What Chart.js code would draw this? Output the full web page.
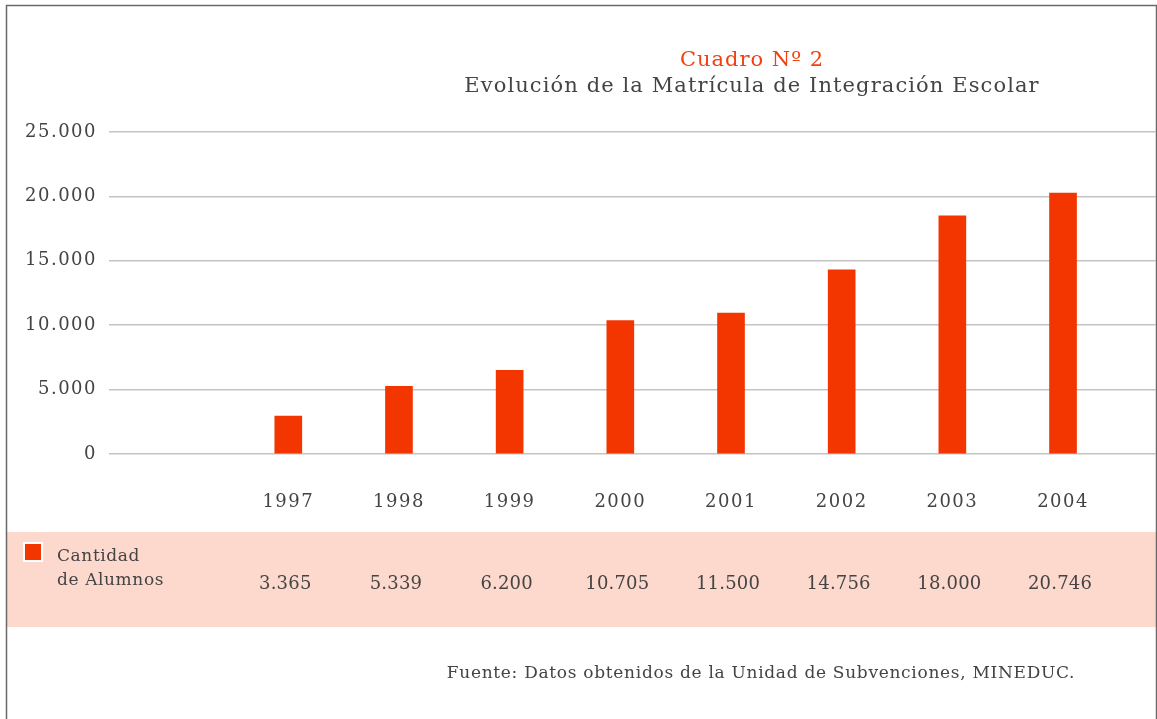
<!DOCTYPE html>
<html>
<head>
<meta charset="utf-8">
<script src="https://cdn.jsdelivr.net/npm/chart.js@4.4.1/dist/chart.umd.min.js"></script>
<style>
  html, body { margin: 0; padding: 0; background: #fff; }
  #wrap { width: 1157px; height: 719px; }
</style>
</head>
<body>
<div id="wrap"><canvas id="grafico" width="1157" height="719"></canvas></div>
<script>
// Datos del cuadro
const anios = [1997, 1998, 1999, 2000, 2001, 2002, 2003, 2004];
// alturas de las barras
const alumnos = [2950, 5250, 6500, 10350, 10950, 14300, 18500, 20250];
// valores impresos en la tabla inferior
const tablaValores = ['3.365', '5.339', '6.200', '10.705', '11.500', '14.756', '18.000', '20.746'];
const ticksY = [0, 5000, 10000, 15000, 20000, 25000];

const titulo = 'Cuadro Nº 2';
const subtitulo = 'Evolución de la Matrícula de Integración Escolar';
const serieNombre = ['Cantidad', 'de Alumnos'];
const fuente = 'Fuente: Datos obtenidos de la Unidad de Subvenciones, MINEDUC.';

const FONT = '"DejaVu Serif", "Liberation Serif", serif';
const GRIS = '#444';
const ROJO = '#f33600';

function miles(v) {
    return String(v).replace(/\B(?=(\d{3})+(?!\d))/g, '.');
}

function texto(ctx, str, x, y, size, color, align, spacing) {
    ctx.save();
    ctx.font = size + 'px ' + FONT;
    ctx.fillStyle = color;
    ctx.textAlign = align;
    ctx.textBaseline = 'alphabetic';
    if ('letterSpacing' in ctx) ctx.letterSpacing = spacing + 'px';
    ctx.fillText(str, x, y);
    ctx.restore();
}

// Marco, títulos, tabla y fuente
const decoracion = {
    id: 'decoracion',
    beforeInit(chart) {
        if ('letterSpacing' in chart.ctx) chart.ctx.letterSpacing = '1.5px';
    },
    beforeDraw(chart) {
        const ctx = chart.ctx;
        if ('letterSpacing' in ctx) ctx.letterSpacing = '1.5px';
        ctx.save();
        // banda rosada
        ctx.fillStyle = '#fcd8cd';
        ctx.fillRect(7, 532, 1150, 95);
        // marco
        ctx.strokeStyle = '#6a6a6a';
        ctx.lineWidth = 1.5;
        ctx.beginPath();
        ctx.moveTo(6.5, 719);
        ctx.lineTo(6.5, 5.5);
        ctx.lineTo(1156.5, 5.5);
        ctx.lineTo(1156.5, 719);
        ctx.stroke();
        ctx.restore();
    },
    afterDraw(chart) {
        const ctx = chart.ctx;
        const xs = chart.scales.x;
        texto(ctx, titulo, 752, 66, 21, '#f2400f', 'center', 1);
        texto(ctx, subtitulo, 752, 92, 21, GRIS, 'center', 1.1);

        // leyenda de la serie
        ctx.save();
        ctx.fillStyle = '#fff';
        ctx.fillRect(23, 542, 20, 20);
        ctx.fillStyle = ROJO;
        ctx.fillRect(25, 544, 16, 16);
        ctx.restore();
        texto(ctx, serieNombre[0], 57, 561, 17, GRIS, 'left', 0.6);
        texto(ctx, serieNombre[1], 57, 585, 17, GRIS, 'left', 0.6);

        anios.forEach((a, i) => {
            texto(ctx, tablaValores[i], xs.getPixelForValue(a) - 3, 589, 18, GRIS, 'center', 0.2);
        });

        texto(ctx, fuente, 761, 678, 17, GRIS, 'center', 0.7);
    }
};

new Chart(document.getElementById('grafico'), {
    type: 'bar',
    data: {
        datasets: [{
            label: serieNombre.join(' '),
            data: anios.map((a, i) => ({ x: a, y: alumnos[i] })),
            backgroundColor: ROJO,
            borderWidth: 0,
            barThickness: 27
        }]
    },
    options: {
        responsive: false,
        animation: false,
        layout: { padding: { top: 132, right: 1, bottom: 719 - 454 - 60, left: 0 } },
        plugins: {
            legend: { display: false },
            title: { display: false },
            tooltip: { enabled: false }
        },
        scales: {
            x: {
                type: 'linear',
                offset: false,
                min: 1995.38,
                max: 2004.84,
                grid: { display: false, offset: false },
                border: { display: false },
                afterBuildTicks(scale) { scale.ticks = anios.map(v => ({ value: v })); },
                afterFit(scale) { scale.height = 60; },
                ticks: {
                    padding: 30,
                    color: GRIS,
                    font: { family: FONT, size: 18 },
                    maxRotation: 0,
                    autoSkip: false,
                    callback: v => String(v)
                }
            },
            y: {
                min: 0,
                max: 25000,
                afterBuildTicks(scale) { scale.ticks = ticksY.map(v => ({ value: v })); },
                afterFit(scale) { scale.width = 109; },
                grid: { color: '#c4c4c4', lineWidth: 1.5, drawTicks: false },
                border: { display: false },
                ticks: {
                    padding: 12,
                    color: GRIS,
                    font: { family: FONT, size: 18 },
                    callback: v => miles(v)
                }
            }
        }
    },
    plugins: [decoracion]
});
</script>
</body>
</html>
